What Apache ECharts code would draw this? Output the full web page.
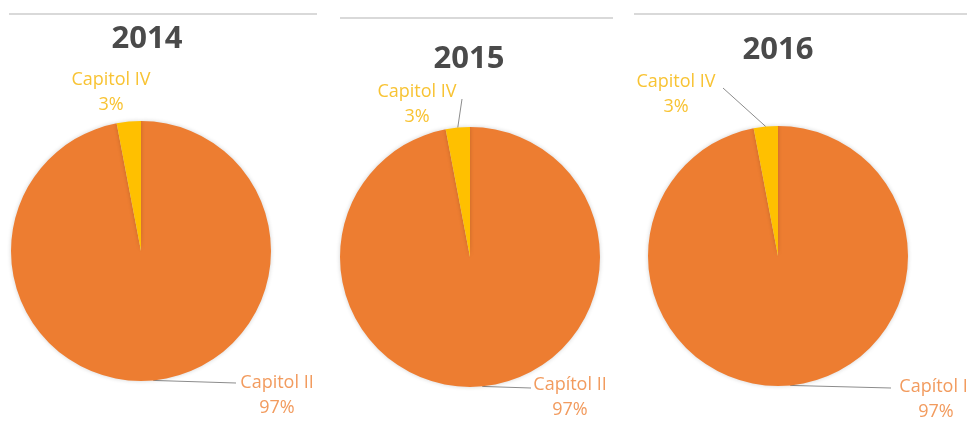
<!DOCTYPE html>
<html><head><meta charset="utf-8">
<script src="https://cdn.jsdelivr.net/npm/echarts@6/dist/echarts.min.js"></script>
<style>html,body{margin:0;padding:0;background:#fff}#c{width:967px;height:423px}</style>
</head><body><div id="c"></div>
<script>
const years = ['2014', '2015', '2016'];
const namesII = ['Capitol II', 'Capítol II', 'Capítol II'];
const namesIV = ['Capitol IV', 'Capitol IV', 'Capitol IV'];
const valuesII = [97, 97, 97];
const valuesIV = [3, 3, 3];

// layout (style only)
const centers = [[141, 251], [470, 257], [778, 256]];
const radius = 130;
const titlePos = [[147, 24], [469, 44], [778, 35]];
const labelPosII = [[277, 395], [570, 397], [936, 399]];
const labelPosIV = [[111, 92], [417, 104], [676, 94]];
const anchorII = [[236, 383], [531, 388], [891, 388]];
const anchorIV = [null, [462, 99], [723, 88]];
const rules = [[9, 317, 14], [340, 613, 18], [634, 967, 14]];

const chart = echarts.init(document.getElementById('c'));
const series = years.map((y, i) => ({
  type: 'pie',
  center: centers[i],
  radius: radius,
  startAngle: 90,
  clockwise: true,
  percentPrecision: 0,
  avoidLabelOverlap: false,
  silent: true,
  itemStyle: {borderWidth: 0, shadowBlur: 4, shadowColor: 'rgba(0,0,0,0.18)'},
  label: {
    show: true,
    formatter: '{b}\n{d}%',
    fontFamily: 'Open Sans',
    fontSize: 18,
    lineHeight: 25,
    align: 'center'
  },
  labelLine: {show: true, lineStyle: {color: '#8c8c8c', width: 1}},
  labelLayout: function (p) {
    const isII = p.dataIndex === 0;
    const pos = isII ? labelPosII[i] : labelPosIV[i];
    const anc = isII ? anchorII[i] : anchorIV[i];
    const out = {x: pos[0], y: pos[1], align: 'center', verticalAlign: 'middle'};
    if (anc && p.labelLinePoints) {
      out.labelLinePoints = [p.labelLinePoints[0], anc, anc];
    }
    return out;
  },
  data: [
    {name: namesII[i], value: valuesII[i], itemStyle: {color: '#ED7D31'},
     label: {color: '#F29B5E'}},
    {name: namesIV[i], value: valuesIV[i], itemStyle: {color: '#FFC000'},
     label: {color: '#F8C333'}, labelLine: {show: anchorIV[i] !== null}}
  ]
}));

const titles = years.map((y, i) => ({
  text: y,
  left: titlePos[i][0],
  top: titlePos[i][1],
  padding: 0,
  textAlign: 'center',
  textStyle: {fontFamily: 'Open Sans', fontWeight: 'bold', fontSize: 31, color: '#4a4a4a'}
}));

chart.setOption({
  animation: false,
  title: titles,
  series: series,
  graphic: rules.map(r => ({
    type: 'line',
    shape: {x1: r[0], y1: r[2], x2: r[1], y2: r[2]},
    style: {stroke: '#d9d9d9', lineWidth: 2},
    silent: true
  }))
});
</script></body></html>
